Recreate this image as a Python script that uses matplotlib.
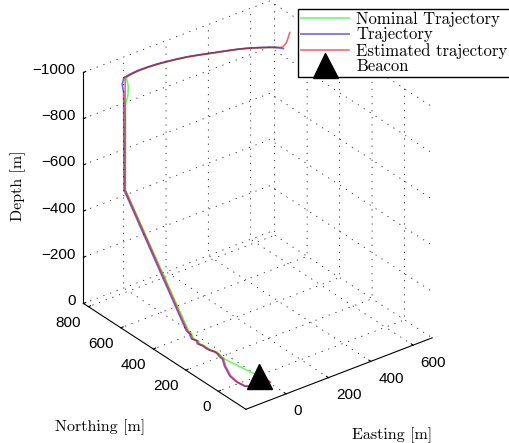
import matplotlib.pyplot as plt
import numpy as np
from mpl_toolkits.mplot3d import proj3d

plt.rcParams['font.family'] = ['Liberation Sans', 'DejaVu Sans']

# Nominal trajectory (green)
nom_e = [587, 567, 536, 504, 470, 433, 396, 364, 320, 283, 244, 201, 159, 118, 70, 34,
         3, 8, 6, 1, 1,
         11, -18, -23, -40, -34, -45, -39, -41, -36, -31, -32, -39, -40, 0]
nom_n = [655, 671, 692, 712, 729, 744, 758, 770, 787, 800, 810, 819, 826, 830, 831, 827,
         818, 812, 812, 820, 820,
         470, 407, 382, 347, 324, 304, 280, 253, 230, 217, 198, 175, 156, 0]
nom_z = [-915, -915, -915, -915, -915, -915, -915, -915, -915, -915, -915, -915, -915, -915, -915, -915,
         -915, -880, -840, -800, -428,
         -15, -15, -15, -15, -15, -15, -15, -15, -15, -15, -15, -15, -15, 0]

# Trajectory (blue)
traj_e = [603, 584, 564, 533, 501, 467, 430, 393, 361, 317, 280, 241, 198, 156, 115, 67, 31, -3,
          -8, -4, -3,
          5, -24, -29, -46, -40, -51, -45, -47, -42, -37, -38, -45, -46,
          -72, -102, -109, -104, -74, -40, -12, -5]
traj_n = [632, 658, 674, 695, 715, 732, 747, 761, 773, 790, 803, 813, 822, 829, 833, 834, 830, 824,
          829, 825, 824,
          476, 413, 388, 353, 330, 310, 286, 259, 236, 223, 204, 181, 162,
          116, 44, -7, -50, -72, -89, -83, -52]
traj_z = [-915, -915, -915, -915, -915, -915, -915, -915, -915, -915, -915, -915, -915, -915, -915, -915, -915, -915,
          -885, -850, -428,
          -15, -15, -15, -15, -15, -15, -15, -15, -15, -15, -15, -15, -15,
          -15, -15, -15, -15, -15, -15, -15, -10]

# Estimated trajectory (red)
est_e = [624, 620, 615, 605,
         587, 567, 536, 504, 470, 433, 396, 364, 320, 283, 244, 201, 159, 118, 70, 34, 0,
         0, 0,
         8, -21, -26, -43, -37, -48, -42, -44, -39, -34, -35, -42, -43,
         -69, -99, -106, -101, -71, -37, -9, -2]
est_n = [621, 625, 630, 640,
         655, 671, 692, 712, 729, 744, 758, 770, 787, 800, 810, 819, 826, 830, 831, 827, 821,
         821, 821,
         473, 410, 385, 350, 327, 307, 283, 256, 233, 220, 201, 178, 159,
         113, 41, -10, -53, -75, -92, -86, -55]
est_z = [-982, -960, -937, -917,
         -915, -915, -915, -915, -915, -915, -915, -915, -915, -915, -915, -915, -915, -915, -915, -915, -915,
         -700, -428,
         -15, -15, -15, -15, -15, -15, -15, -15, -15, -15, -15, -15, -15,
         -15, -15, -15, -15, -15, -15, -15, -10]

# Beacon
beacon_e = [0]
beacon_n = [0]
beacon_z = [0]

xlim = (-190, 690)
ylim = (-170, 830)
zlim = (0, -1000)
xticks = [0, 200, 400, 600]
yticks = [0, 200, 400, 600, 800]
zticks = [-1000, -800, -600, -400, -200, 0]

fig = plt.figure(figsize=(5.09, 4.43), dpi=100)
ax = fig.add_axes([0, 0, 1, 1], projection='3d')
ax.set_proj_type('ortho')
ax.computed_zorder = False

ax.plot(nom_e, nom_n, nom_z, color=(0, 1, 0), lw=1.2, alpha=0.6, zorder=2, label='Nominal Trajectory')
ax.plot(traj_e, traj_n, traj_z, color=(0, 0, 1), lw=1.2, alpha=0.6, zorder=3, label='Trajectory')
ax.plot(est_e, est_n, est_z, color=(1, 0, 0), lw=1.2, alpha=0.6, zorder=4, label='Estimated trajectory')
ax.plot(beacon_e, beacon_n, beacon_z, '^', color='k', ms=18, zorder=5, label='Beacon')

ax.set_xlim(xlim)
ax.set_ylim(ylim)
ax.set_zlim(zlim)
ax.set_xticks(xticks)
ax.set_yticks(yticks)
ax.set_zticks(zticks)
ax.xaxis.set_ticklabels([])
ax.yaxis.set_ticklabels([])
ax.zaxis.set_ticklabels([])
ax.set_box_aspect((abs(xlim[1] - xlim[0]), abs(ylim[1] - ylim[0]), abs(zlim[1] - zlim[0])))
ax.view_init(elev=30, azim=-127.5)

for axis in (ax.xaxis, ax.yaxis, ax.zaxis):
    axis.set_pane_color((1, 1, 1, 0))
    axis.pane.set_edgecolor((1, 1, 1, 0))
    axis.line.set_color('k')
    axis.line.set_linewidth(0.8)
    axis._axinfo['grid'].update({'color': (0.15, 0.15, 0.15), 'linewidth': 0.6, 'linestyle': (0, (1.5, 7))})
    axis._axinfo['tick']['inward_factor'] = 0.0
    axis._axinfo['tick']['outward_factor'] = 0.15

# fit the box onto the reference layout
fig.canvas.draw()
W, H = fig.bbox.width, fig.bbox.height
bb = ax.bbox
c0 = np.array([bb.x0 + bb.width / 2, bb.y0 + bb.height / 2])
w0 = bb.width


def unit_px(xs, ys, zs):
    px, py, _ = proj3d.proj_transform(np.asarray(xs, float), np.asarray(ys, float), np.asarray(zs, float), ax.get_proj())
    return (ax.transData.transform(np.column_stack([px, py])) - c0) / w0


U = unit_px([xlim[0], xlim[0], xlim[1], xlim[0]], [ylim[0], ylim[1], ylim[0], ylim[1]], [0, 0, 0, -1000])
Ux = unit_px(xticks, [ylim[0]] * len(xticks), [0] * len(xticks))
Uy = unit_px([xlim[0]] * len(yticks), yticks, [0] * len(yticks))
Uz = unit_px([xlim[0]] * len(zticks), [ylim[1]] * len(zticks), zticks)

targets = np.array([[245, 410], [84, 302], [432, 339], [84, 72]], float)
targets[:, 1] = H - targets[:, 1]
Um, Tm = U.mean(0), targets.mean(0)
s = ((targets - Tm) * (U - Um)).sum() / ((U - Um) ** 2).sum()
c = Tm - s * Um
ax.set_position([(c[0] - s / 2) / W, (c[1] - s / 2) / H, s / W, s / H])


def fmt(v):
    return str(v).replace('-', '\u2212')


# tick labels
for v, (x, y) in zip(xticks, c + s * Ux):
    fig.text((x + 7.5) / W, (y - 17.5) / H, fmt(v), fontsize=11, ha='left', va='center')
for v, (x, y) in zip(yticks, c + s * Uy):
    fig.text((x - 7) / W, (y - 16) / H, fmt(v), fontsize=11, ha='right', va='center')
for v, (x, y) in zip(zticks, c + s * Uz):
    fig.text((x - 8) / W, (y + 2.5) / H, fmt(v), fontsize=11, ha='right', va='center')

fig.text(18 / W, 1 - 186 / H, 'Depth [m]', family='cmr10', fontsize=11.5, rotation=90, ha='center', va='center')
fig.text(100 / W, 1 - 427 / H, 'Northing [m]', family='cmr10', fontsize=11.5, ha='center', va='center')
fig.text(392 / W, 1 - 435 / H, 'Easting [m]', family='cmr10', fontsize=11.5, ha='center', va='center')

leg = fig.legend(loc='upper left', bbox_to_anchor=(298 / W, 1 - 9 / H), prop={'family': 'cmr10', 'size': 12},
                 frameon=True, fancybox=False, edgecolor='k', framealpha=1, borderpad=0.15, labelspacing=0.02,
                 handlelength=2.9, handletextpad=0.45, borderaxespad=0, numpoints=1)
leg.get_frame().set_linewidth(1.0)

fig.savefig('out.png', dpi=100)
